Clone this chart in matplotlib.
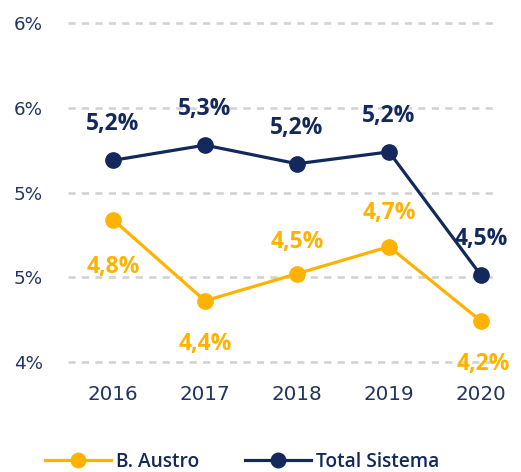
import matplotlib
matplotlib.use("Agg")
import matplotlib.pyplot as plt

years = ["2016", "2017", "2018", "2019", "2020"]
austro = [4.84, 4.36, 4.52, 4.68, 4.24]
sistema = [5.19, 5.28, 5.17, 5.24, 4.51]
ytick_values = [4.0, 4.5, 5.0, 5.5, 6.0]
ytick_labels = ["4%", "5%", "5%", "6%", "6%"]
series_names = ["B. Austro", "Total Sistema"]

ORANGE = "#FFB300"
NAVY = "#13295B"
TICK = "#22355F"

fig = plt.figure(figsize=(5.21, 4.72), dpi=100)
ax = fig.add_axes([0.1305, 0.2265, 0.8196, 0.7313])

x = list(range(len(years)))
ax.set_xlim(-0.489, 4.152)
ax.set_ylim(3.98, 6.02)

for v in ytick_values:
    ax.axhline(v, color="#D3D3D3", lw=1.9, linestyle=(0, (2.7, 2.4)), zorder=0)

l1, = ax.plot(x, austro, color=ORANGE, lw=2.3, marker="o", markersize=11, zorder=3)
l2, = ax.plot(x, sistema, color=NAVY, lw=2.3, marker="o", markersize=11, zorder=3)

def fmt(v):
    return f"{v:.1f}".replace(".", ",") + "%"

sis_off = [26, 26, 26, 26, 26]
aus_off = [-34, -31, 23, 24.5, -31]
for i, v in enumerate(sistema):
    ax.annotate(fmt(v), (x[i], v), xytext=(0, sis_off[i]), textcoords="offset points",
                ha="center", va="center", color=NAVY, fontsize=16.5,
                fontweight="bold", family="Open Sans")
for i, v in enumerate(austro):
    ax.annotate(fmt(v), (x[i], v), xytext=(1.5 if i == 4 else 0, aus_off[i]),
                textcoords="offset points", ha="center", va="center", color=ORANGE,
                fontsize=16.5, fontweight="bold", family="Open Sans")

ax.set_xticks(x)
ax.set_xticklabels(years, fontsize=14.3, color=TICK)
ax.set_yticks(ytick_values)
ax.set_yticklabels(ytick_labels, fontsize=13.2, color=TICK)
ax.tick_params(axis="both", length=0)
ax.tick_params(axis="y", pad=18)
ax.tick_params(axis="x", pad=14)
for s in ax.spines.values():
    s.set_visible(False)

leg = fig.legend([l1, l2], series_names, loc="center", bbox_to_anchor=(0.465, 0.021),
                 ncol=2, frameon=False, handlelength=3.45, handletextpad=0.25,
                 columnspacing=2.4, prop={"family": "Open Sans", "weight": "semibold", "size": 13.8},
                 markerscale=0.95)
for t in leg.get_texts():
    t.set_color(NAVY)

fig.savefig("out.png", dpi=100)
